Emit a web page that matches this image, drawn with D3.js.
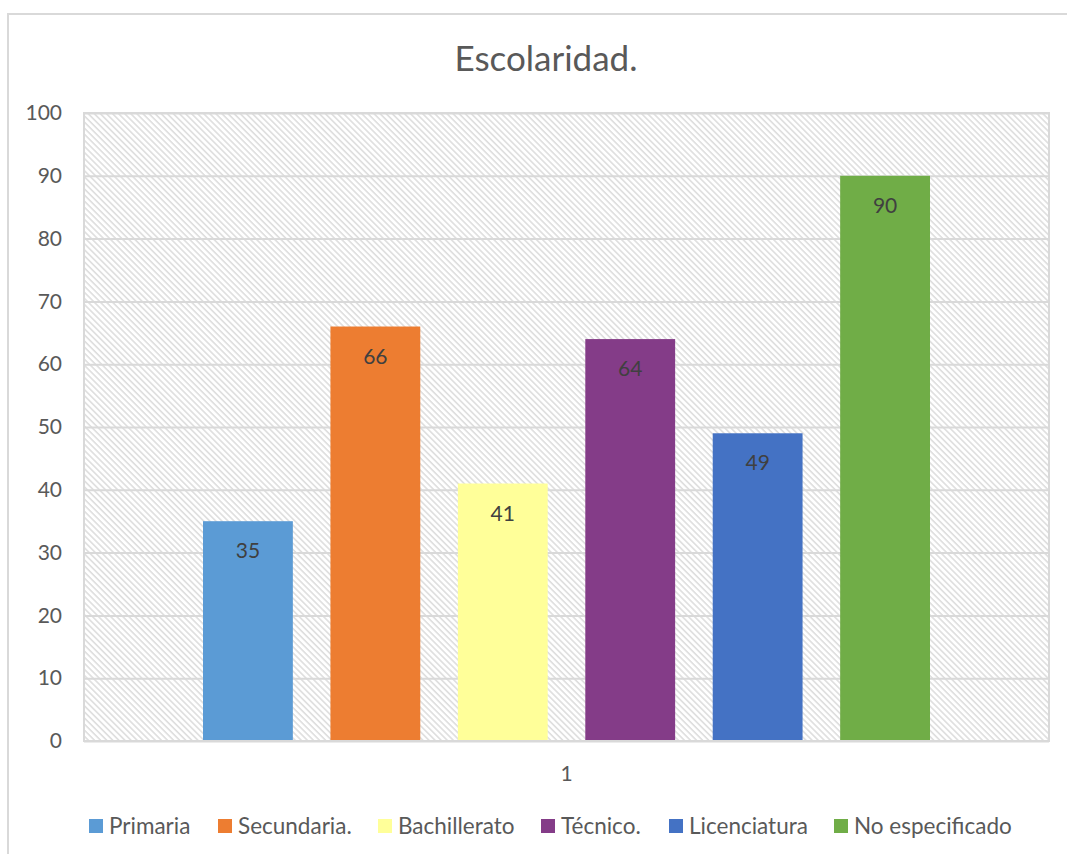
<!DOCTYPE html>
<html><head><meta charset="utf-8">
<script src="https://cdn.jsdelivr.net/npm/d3@7"></script>
<style>body{margin:0;background:#fff;}svg{display:block;font-family:Lato,'Open Sans',sans-serif;}</style>
</head><body>
<script>
const series = ["Primaria","Secundaria.","Bachillerato","Técnico.","Licenciatura","No especificado"];
const values = [35,66,41,64,49,90];
const colors = ["#5b9bd5","#ed7d31","#ffff99","#843c88","#4472c4","#70ad47"];
const categories = ["1"];
const yTicks = [0,10,20,30,40,50,60,70,80,90,100];
const title = "Escolaridad.";

const W=1067,H=854;
const svg=d3.select("body").append("svg").attr("width",W).attr("height",H);
const defs=svg.append("defs");
const pat=defs.append("pattern").attr("id","hatch").attr("patternUnits","userSpaceOnUse")
  .attr("width",4.3).attr("height",4.3).attr("patternTransform","rotate(45)");
pat.append("rect").attr("width",4.3).attr("height",4.3).attr("fill","#fff");
pat.append("rect").attr("x",0).attr("y",0).attr("width",4.3).attr("height",1.6).attr("fill","#dedede");

// outer chart border
svg.append("rect").attr("x",8).attr("y",14).attr("width",W).attr("height",H).attr("fill","#fff").attr("stroke","#d9d9d9").attr("stroke-width",2);

const m={l:84,r:1049,t:113,b:741};
const y=d3.scaleLinear().domain([0,100]).range([m.b,m.t]);
const x0=d3.scaleBand().domain(categories).range([m.l,m.r]);
const x1=d3.scaleBand().domain(series).range([x0("1")+119,x0("1")+x0.bandwidth()-119]).paddingInner(0.295).paddingOuter(0);

svg.append("rect").attr("x",m.l).attr("y",m.t).attr("width",m.r-m.l).attr("height",m.b-m.t).attr("fill","url(#hatch)");

const yAxis=svg.append("g").attr("transform",`translate(${m.l},0)`)
  .call(d3.axisLeft(y).tickValues(yTicks).tickSize(-(m.r-m.l)).tickPadding(22));
yAxis.select(".domain").remove();
yAxis.selectAll("line").attr("stroke","#d9d9d9").attr("stroke-width",2);
yAxis.selectAll("text").attr("fill","#595959").attr("font-size",21).attr("font-family","Lato,'Open Sans',sans-serif");

// plot border
svg.append("rect").attr("x",m.l).attr("y",m.t).attr("width",m.r-m.l).attr("height",m.b-m.t).attr("fill","none").attr("stroke","#d9d9d9").attr("stroke-width",2);

const g=svg.append("g");
g.selectAll("rect.bar").data(values).join("rect").attr("class","bar")
  .attr("x",(d,i)=>x1(series[i])).attr("width",x1.bandwidth())
  .attr("y",d=>y(d)).attr("height",d=>y(0)-y(d)).attr("fill",(d,i)=>colors[i]);
g.selectAll("text.lbl").data(values).join("text").attr("class","lbl")
  .attr("x",(d,i)=>x1(series[i])+x1.bandwidth()/2).attr("y",d=>y(d)+37)
  .attr("text-anchor","middle").attr("font-size",21).attr("fill","#404040").text(d=>d);

// baseline
svg.append("line").attr("x1",m.l).attr("x2",m.r).attr("y1",m.b).attr("y2",m.b).attr("stroke","#d9d9d9").attr("stroke-width",2);

// x axis category
svg.append("text").attr("x",x0("1")+x0.bandwidth()/2).attr("y",781).attr("text-anchor","middle")
  .attr("font-size",21).attr("fill","#595959").text(categories[0]);

svg.append("text").attr("x",546).attr("y",71).attr("text-anchor","middle").attr("font-size",35).attr("fill","#595959").text(title);

// legend
const legX=[89,218,378,541,669,834];
const leg=svg.append("g");
series.forEach((s,i)=>{
  leg.append("rect").attr("x",legX[i]).attr("y",819).attr("width",14).attr("height",14).attr("fill",colors[i]);
  leg.append("text").attr("x",legX[i]+20).attr("y",834).attr("font-size",22.5).attr("fill","#595959").text(s);
});
</script>
</body></html>
